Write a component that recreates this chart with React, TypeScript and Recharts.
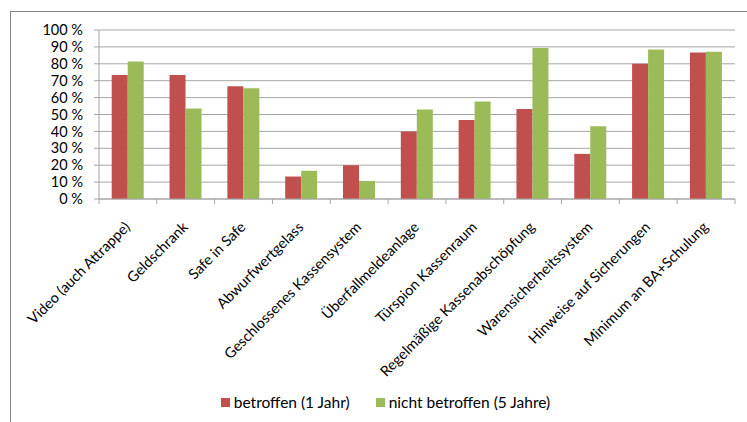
import React from 'react';
import { BarChart, Bar, XAxis, YAxis, CartesianGrid, Legend } from 'recharts';

const categories = [
  'Video (auch Attrappe)',
  'Geldschrank',
  'Safe in Safe',
  'Abwurfwertgelass',
  'Geschlossenes Kassensystem',
  'Überfallmeldeanlage',
  'Türspion Kassenraum',
  'Regelmäßige Kassenabschöpfung',
  'Warensicherheitssystem',
  'Hinweise auf Sicherungen',
  'Minimum an BA+Schulung',
];
const betroffen = [73.3, 73.3, 66.7, 13.3, 20, 40, 46.7, 53.3, 26.7, 80, 86.7];
const nichtBetroffen = [81.4, 53.5, 65.5, 16.7, 10.7, 53, 57.7, 89.3, 43, 88.4, 87.2];
const yTicks = [0, 10, 20, 30, 40, 50, 60, 70, 80, 90, 100];
const seriesNames = ['betroffen (1 Jahr)', 'nicht betroffen (5 Jahre)'];

const data = categories.map((name, i) => ({
  name,
  a: betroffen[i],
  b: nichtBetroffen[i],
}));

const FONT = 'Lato, "Open Sans", sans-serif';
const RED = '#C0504D';
const GREEN = '#9BBB59';
const AXIS = '#A6A6A6';

const XTick = (props: any) => {
  const { x, y, payload, index, width, visibleTicksCount } = props;
  const count = visibleTicksCount || categories.length;
  const band = (width || 636) / count;
  const y0 = y - 8;
  return (
    <g>
      <line x1={x - band / 2} x2={x - band / 2} y1={y0} y2={y0 + 5} stroke={AXIS} />
      {index === count - 1 && (
        <line x1={x + band / 2} x2={x + band / 2} y1={y0} y2={y0 + 5} stroke={AXIS} />
      )}
      <g transform={`translate(${x + 3},${y + 21})`}>
        <text
          transform="rotate(-45)"
          textAnchor="end"
          fontFamily={FONT}
          fontSize={14.5}
          fill="#000"
        >
          {payload.value}
        </text>
      </g>
    </g>
  );
};

const LegendContent = () => (
  <div
    style={{
      display: 'flex',
      justifyContent: 'center',
      alignItems: 'center',
      height: 20,
      fontFamily: FONT,
      fontSize: 15.5,
      color: '#000',
      paddingLeft: 36,
    }}
  >
    {[RED, GREEN].map((c, i) => (
      <div key={i} style={{ display: 'flex', alignItems: 'center', marginRight: i === 0 ? 26 : 0 }}>
        <span style={{ width: 9, height: 9, background: c, display: 'inline-block', marginRight: 4 }} />
        <span>{seriesNames[i]}</span>
      </div>
    ))}
  </div>
);

export default function App() {
  return (
    <div
      style={{
        position: 'absolute',
        left: 0,
        top: 0,
        width: 747,
        height: 422,
        overflow: 'hidden',
        background: '#fff',
      }}
    >
      <div
        style={{
          position: 'absolute',
          left: 10,
          top: 11,
          width: 800,
          height: 500,
          border: '1px solid #868686',
          boxSizing: 'border-box',
        }}
      />
      <div style={{ position: 'absolute', left: 0, top: 0 }}>
        <BarChart
          width={747}
          height={422}
          data={data}
          margin={{ top: 30, right: 12, left: 0, bottom: 10 }}
          barCategoryGap="22%"
          barGap={0}
        >
          <CartesianGrid vertical={false} stroke={AXIS} />
          <XAxis
            dataKey="name"
            interval={0}
            height={193}
            tick={<XTick />}
            tickLine={false}
            axisLine={{ stroke: AXIS }}
          />
          <YAxis
            domain={[0, 100]}
            ticks={yTicks}
            width={99}
            tickFormatter={(v: number) => `${v} %`}
            tick={{ fontFamily: FONT, fontSize: 14.5, fill: '#000' }}
            tickLine={{ stroke: AXIS }}
            tickSize={5}
            tickMargin={11}
            axisLine={{ stroke: AXIS }}
            interval={0}
          />
          <Legend verticalAlign="bottom" content={<LegendContent />} />
          <Bar dataKey="a" name={seriesNames[0]} fill={RED} isAnimationActive={false} />
          <Bar dataKey="b" name={seriesNames[1]} fill={GREEN} isAnimationActive={false} />
        </BarChart>
      </div>
    </div>
  );
}
